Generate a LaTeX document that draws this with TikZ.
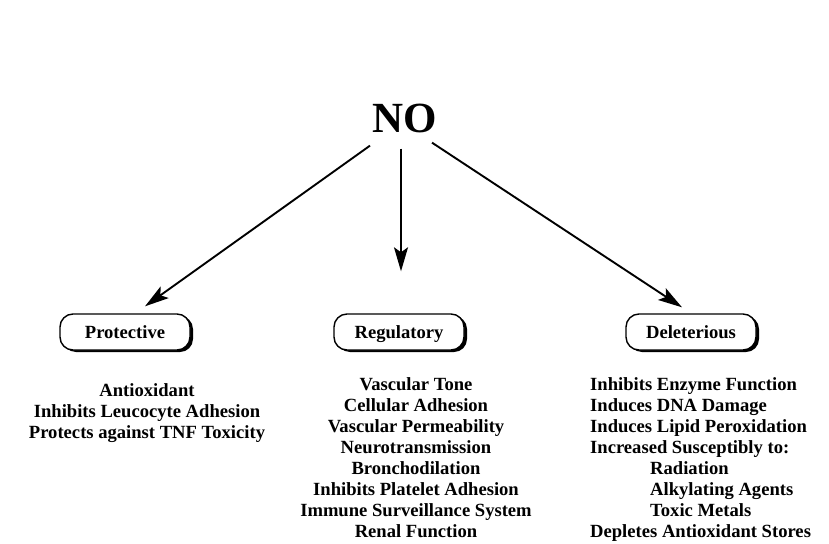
\documentclass[tikz,border=0pt]{standalone}
\usepackage{fontspec}
\setmainfont{Liberation Serif}
\usetikzlibrary{arrows.meta,shadows,calc}
\begin{document}
\begin{tikzpicture}[x=1pt,y=-1pt,
  lbl/.style={font=\fontsize{18.6}{21}\selectfont\bfseries},
  pill/.style={draw, line width=1.4pt, rounded corners=13pt, fill=white,
    minimum width=130pt, minimum height=36pt, inner sep=0pt, lbl,
    text height=13pt, text depth=1pt,
    drop shadow={shadow xshift=3pt, shadow yshift=-2pt, opacity=1, fill=black}},
  arr/.style={line width=1.9pt, -{Stealth[length=24pt,width=14pt,inset=5pt]}},
  list/.style={lbl, inner sep=0pt}]
\useasboundingbox (0,0) rectangle (829,543);

\node[font=\fontsize{43}{43}\selectfont\bfseries, inner sep=0pt] (no) at (405,118) {NO};

\node[pill] (prot) at (125,332) {Protective};
\node[pill] (reg)  at (399,332) {Regulatory};
\node[pill] (del)  at (691,332) {Deleterious};

\draw[arr] ($(no.south)+(-35,13)$) -- ($(prot.north)+(20,-7)$);
\draw[arr] ($(no.south)+(-4,16)$) -- ($(reg.north)+(2,-42)$);
\draw[arr] ($(no.south)+(27,10)$) -- ($(del.north)+(-9,-6)$);

\node[list, anchor=north, align=center] (plist) at (147,383)
  {Antioxidant\\Inhibits Leucocyte Adhesion\\Protects against TNF Toxicity};

\node[list, anchor=north, align=center] (rlist) at (416,377)
  {Vascular Tone\\Cellular Adhesion\\Vascular Permeability\\Neurotransmission\\Bronchodilation\\Inhibits Platelet Adhesion\\Immune Surveillance System\\Renal Function};

\node[list, anchor=north west, align=left] (dlist) at (590,377)
  {Inhibits Enzyme Function\\Induces DNA Damage\\Induces Lipid Peroxidation\\Increased Susceptibly to:\\
   \hspace*{60pt}Radiation\\\hspace*{60pt}Alkylating Agents\\\hspace*{60pt}Toxic Metals\\Depletes Antioxidant Stores};
\end{tikzpicture}
\end{document}
